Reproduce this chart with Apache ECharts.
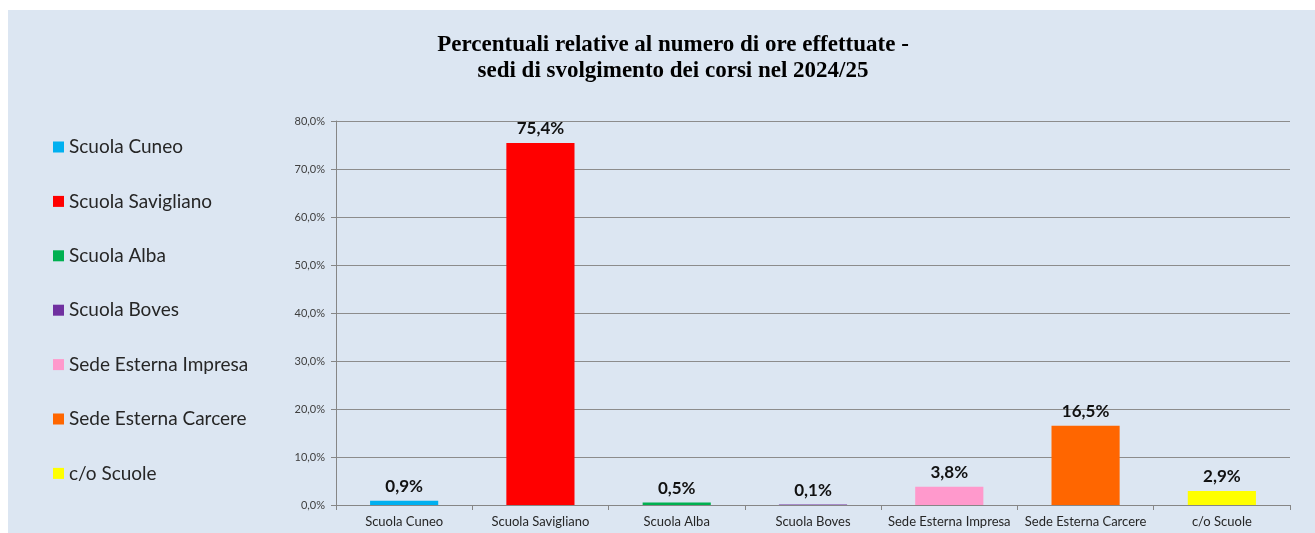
<!DOCTYPE html>
<html>
<head>
<meta charset="utf-8">
<script src="https://cdn.jsdelivr.net/npm/echarts@6/dist/echarts.min.js"></script>
<style>
  html, body { margin: 0; padding: 0; background: #ffffff; }
  #chart { position: absolute; left: 8px; top: 10px; width: 1307px; height: 523px; background: #dce6f2; }
</style>
</head>
<body>
<div id="chart"></div>
<script>
// dati
const sedi = ['Scuola Cuneo', 'Scuola Savigliano', 'Scuola Alba', 'Scuola Boves', 'Sede Esterna Impresa', 'Sede Esterna Carcere', 'c/o Scuole']
const percentuali = [0.9, 75.4, 0.5, 0.1, 3.8, 16.5, 2.9]
const colori = ['#00b0f0', '#ff0000', '#00b050', '#7030a0', '#ff99cc', '#ff6600', '#ffff00']
const titolo = 'Percentuali relative al numero di ore effettuate -\nsedi di svolgimento dei corsi nel 2024/25'

const fmt = v => v.toFixed(1).replace('.', ',') + '%'

const chart = echarts.init(document.getElementById('chart'))

// una serie per sede, così la legenda mostra ogni colore
const series = sedi.map((nome, i) => ({
  name: nome,
  type: 'bar',
  stack: 'tot',
  barWidth: '50%',
  itemStyle: { color: colori[i] },
  data: percentuali.map((v, j) => (j === i ? v : '-')),
  label: {
    show: true,
    position: 'top',
    distance: 6,
    fontFamily: 'Lato',
    fontWeight: 'bold',
    fontSize: 17,
    color: '#111',
    formatter: p => fmt(p.value)
  }
}))

chart.setOption({
  animation: false,
  backgroundColor: '#dce6f2',
  graphic: [{
    type: 'text',
    x: 665,
    y: 48,
    style: {
      text: titolo,
      align: 'center',
      verticalAlign: 'middle',
      font: 'bold 23px "Liberation Serif"',
      lineHeight: 26,
      fill: '#000'
    }
  }],
  legend: {
    orient: 'vertical',
    left: 40,
    top: 122,
    itemWidth: 11,
    itemHeight: 11,
    itemGap: 34.4,
    icon: 'rect',
    textStyle: { fontFamily: 'Lato', fontSize: 19, color: '#262626', lineHeight: 20 },
    data: sedi
  },
  grid: { left: 328, right: 25, top: 111, bottom: 28, containLabel: false },
  xAxis: {
    type: 'category',
    data: sedi,
    axisLine: { lineStyle: { color: '#868686' } },
    axisTick: { show: true, alignWithLabel: false, length: 5, lineStyle: { color: '#868686' } },
    axisLabel: { fontFamily: 'Lato', fontSize: 13, color: '#262626', margin: 10, interval: 0 }
  },
  yAxis: {
    type: 'value',
    min: 0,
    max: 80,
    interval: 10,
    axisLine: { show: true, lineStyle: { color: '#868686' } },
    axisTick: { show: true, length: 5, lineStyle: { color: '#868686' } },
    axisLabel: { fontFamily: 'Lato', fontSize: 11, color: '#404040', margin: 11, formatter: v => fmt(v) },
    splitLine: { lineStyle: { color: '#8c8c8c', width: 1 } }
  },
  series
})
</script>
</body>
</html>
